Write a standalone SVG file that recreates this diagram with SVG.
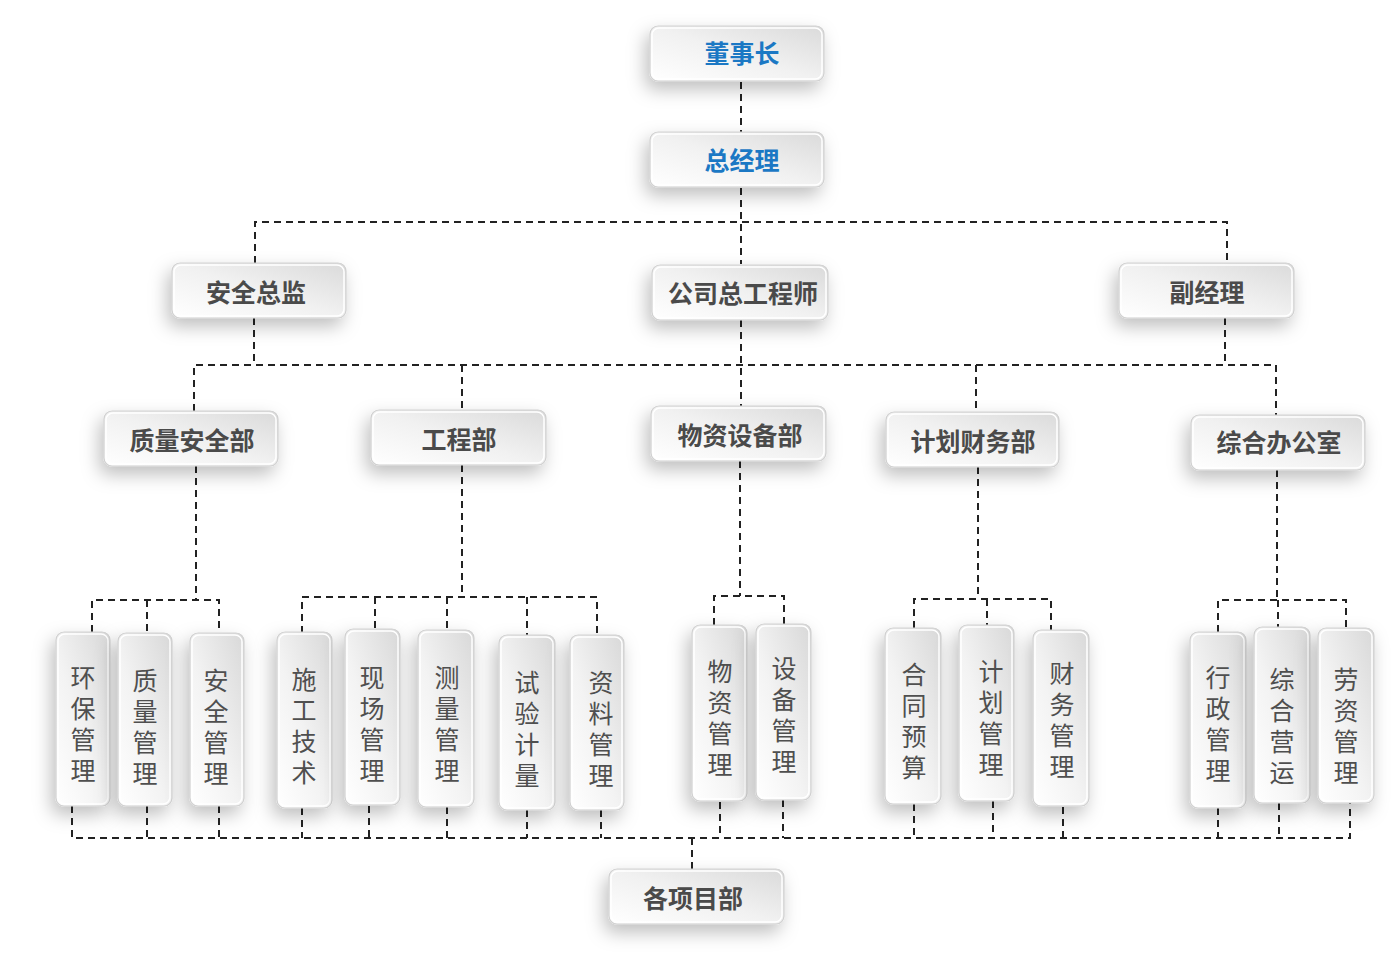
<svg xmlns="http://www.w3.org/2000/svg" width="1400" height="980" viewBox="0 0 1400 980">
<defs>
<linearGradient id="g" x1="0" y1="1" x2="1" y2="0">
<stop offset="0" stop-color="#ffffff"/>
<stop offset="0.5" stop-color="#f1f1f1"/>
<stop offset="1" stop-color="#dadada"/>
</linearGradient>
<linearGradient id="gv" x1="0" y1="1" x2="1" y2="0">
<stop offset="0" stop-color="#ffffff"/>
<stop offset="0.45" stop-color="#f3f3f3"/>
<stop offset="1" stop-color="#d8d8d8"/>
</linearGradient>
<filter id="sh" x="-50%" y="-30%" width="200%" height="180%">
<feDropShadow dx="-4" dy="8" stdDeviation="9" flood-color="#000" flood-opacity="0.25"/>
</filter>
</defs>
<style>
.box{fill:url(#g);stroke:#d0d0d0;stroke-width:1.2;filter:url(#sh)}
.vbox{fill:url(#gv);stroke:#d0d0d0;stroke-width:1.2;filter:url(#sh)}
.in{fill:none;stroke:#ffffff;stroke-width:1.5}
.t{font-family:"Noto Sans CJK SC","Noto Sans",sans-serif;font-size:25px;font-weight:700;fill:#4a4a4a;text-anchor:middle}
.tb{fill:#1b78c4}
.v{font-family:"Noto Sans CJK SC","Noto Sans",sans-serif;font-size:25px;font-weight:400;fill:#4f4f4f;text-anchor:middle;writing-mode:vertical-rl;text-orientation:upright;letter-spacing:6px}
.c{fill:none;stroke:#222;stroke-width:2;stroke-dasharray:7 5}
</style>
<rect width="1400" height="980" fill="#ffffff"/>
<g id="connectors">
<path class="c" d="M741 82V132"/>
<path class="c" d="M741 188V264"/>
<path class="c" d="M255 263V222H1227V263"/>
<path class="c" d="M254 318V365"/>
<path class="c" d="M741 320V406"/>
<path class="c" d="M1225 318V365"/>
<path class="c" d="M194 411V365H1276V415"/>
<path class="c" d="M462 365V410"/>
<path class="c" d="M976 365V412"/>
<path class="c" d="M196 466V600"/>
<path class="c" d="M92 632V600H219V633"/>
<path class="c" d="M147 600V633"/>
<path class="c" d="M462 465V597"/>
<path class="c" d="M302 633V597H597V635"/>
<path class="c" d="M375 597V630"/>
<path class="c" d="M447 597V630"/>
<path class="c" d="M527 597V635"/>
<path class="c" d="M740 461V596"/>
<path class="c" d="M714 625V596H784V625"/>
<path class="c" d="M978 467V599"/>
<path class="c" d="M914 628V599H1051V630"/>
<path class="c" d="M987 599V625"/>
<path class="c" d="M1277 470V600"/>
<path class="c" d="M1218 632V600H1346V628"/>
<path class="c" d="M1278 600V627"/>
<path class="c" d="M72 806V838H1350V803"/>
<path class="c" d="M147 806V838"/>
<path class="c" d="M219 806V838"/>
<path class="c" d="M302 808V838"/>
<path class="c" d="M369 806V838"/>
<path class="c" d="M447 807V838"/>
<path class="c" d="M527 810V838"/>
<path class="c" d="M601 810V838"/>
<path class="c" d="M720 802V838"/>
<path class="c" d="M783 800V838"/>
<path class="c" d="M914 804V838"/>
<path class="c" d="M993 801V838"/>
<path class="c" d="M1063 807V838"/>
<path class="c" d="M1218 808V838"/>
<path class="c" d="M1279 803V838"/>
<path class="c" d="M692 838V869"/>
</g>
<g id="n-dongshizhang"><rect class="box" x="650" y="26" width="174" height="55" rx="8"/><rect class="in" x="652" y="28" width="170" height="51" rx="7"/><text class="t tb" x="742" y="63">董事长</text></g>
<g id="n-zongjingli"><rect class="box" x="650" y="132" width="174" height="55" rx="8"/><rect class="in" x="652" y="134" width="170" height="51" rx="7"/><text class="t tb" x="742" y="170">总经理</text></g>
<g id="n-anquanzongjian"><rect class="box" x="172" y="263" width="174" height="55" rx="8"/><rect class="in" x="174" y="265" width="170" height="51" rx="7"/><text class="t" x="256" y="302">安全总监</text></g>
<g id="n-zonggongchengshi"><rect class="box" x="652" y="265" width="176" height="55" rx="8"/><rect class="in" x="654" y="267" width="172" height="51" rx="7"/><text class="t" x="743" y="303">公司总工程师</text></g>
<g id="n-fujingli"><rect class="box" x="1119" y="263" width="175" height="55" rx="8"/><rect class="in" x="1121" y="265" width="171" height="51" rx="7"/><text class="t" x="1207" y="302">副经理</text></g>
<g id="n-zhiliang"><rect class="box" x="104" y="411" width="174" height="55" rx="8"/><rect class="in" x="106" y="413" width="170" height="51" rx="7"/><text class="t" x="192" y="450">质量安全部</text></g>
<g id="n-gongcheng"><rect class="box" x="371" y="410" width="175" height="55" rx="8"/><rect class="in" x="373" y="412" width="171" height="51" rx="7"/><text class="t" x="459" y="449">工程部</text></g>
<g id="n-wuzi"><rect class="box" x="651" y="406" width="175" height="55" rx="8"/><rect class="in" x="653" y="408" width="171" height="51" rx="7"/><text class="t" x="740" y="445">物资设备部</text></g>
<g id="n-jihua"><rect class="box" x="886" y="412" width="173" height="55" rx="8"/><rect class="in" x="888" y="414" width="169" height="51" rx="7"/><text class="t" x="973" y="451">计划财务部</text></g>
<g id="n-zonghe"><rect class="box" x="1191" y="415" width="174" height="55" rx="8"/><rect class="in" x="1193" y="417" width="170" height="51" rx="7"/><text class="t" x="1279" y="452">综合办公室</text></g>
<g id="n-xiangmu"><rect class="box" x="609" y="869" width="175" height="55" rx="8"/><rect class="in" x="611" y="871" width="171" height="51" rx="7"/><text class="t" x="693" y="908">各项目部</text></g>
<g id="l-huanbao"><rect class="vbox" x="56" y="632" width="54" height="174" rx="8"/><rect class="in" x="58" y="634" width="50" height="170" rx="7"/><text class="v" x="83" y="727">环保管理</text></g>
<g id="l-zhiliang"><rect class="vbox" x="118" y="633" width="54" height="173" rx="8"/><rect class="in" x="120" y="635" width="50" height="169" rx="7"/><text class="v" x="145" y="730">质量管理</text></g>
<g id="l-anquan"><rect class="vbox" x="190" y="633" width="54" height="173" rx="8"/><rect class="in" x="192" y="635" width="50" height="169" rx="7"/><text class="v" x="216" y="730">安全管理</text></g>
<g id="l-shigong"><rect class="vbox" x="277" y="632" width="55" height="176" rx="8"/><rect class="in" x="279" y="634" width="51" height="172" rx="7"/><text class="v" x="304" y="729">施工技术</text></g>
<g id="l-xianchang"><rect class="vbox" x="345" y="629" width="55" height="176" rx="8"/><rect class="in" x="347" y="631" width="51" height="172" rx="7"/><text class="v" x="372" y="727">现场管理</text></g>
<g id="l-celiang"><rect class="vbox" x="418" y="630" width="56" height="177" rx="8"/><rect class="in" x="420" y="632" width="52" height="173" rx="7"/><text class="v" x="447" y="727">测量管理</text></g>
<g id="l-shiyan"><rect class="vbox" x="499" y="635" width="56" height="175" rx="8"/><rect class="in" x="501" y="637" width="52" height="171" rx="7"/><text class="v" x="527" y="732">试验计量</text></g>
<g id="l-ziliao"><rect class="vbox" x="570" y="635" width="54" height="175" rx="8"/><rect class="in" x="572" y="637" width="50" height="171" rx="7"/><text class="v" x="601" y="732">资料管理</text></g>
<g id="l-wuzi"><rect class="vbox" x="692" y="625" width="55" height="176" rx="8"/><rect class="in" x="694" y="627" width="51" height="172" rx="7"/><text class="v" x="720" y="721">物资管理</text></g>
<g id="l-shebei"><rect class="vbox" x="756" y="624" width="55" height="176" rx="8"/><rect class="in" x="758" y="626" width="51" height="172" rx="7"/><text class="v" x="784" y="718">设备管理</text></g>
<g id="l-hetong"><rect class="vbox" x="885" y="628" width="56" height="176" rx="8"/><rect class="in" x="887" y="630" width="52" height="172" rx="7"/><text class="v" x="914" y="724">合同预算</text></g>
<g id="l-jihua"><rect class="vbox" x="959" y="625" width="55" height="176" rx="8"/><rect class="in" x="961" y="627" width="51" height="172" rx="7"/><text class="v" x="991" y="721">计划管理</text></g>
<g id="l-caiwu"><rect class="vbox" x="1033" y="630" width="56" height="176" rx="8"/><rect class="in" x="1035" y="632" width="52" height="172" rx="7"/><text class="v" x="1062" y="723">财务管理</text></g>
<g id="l-xingzheng"><rect class="vbox" x="1190" y="632" width="56" height="176" rx="8"/><rect class="in" x="1192" y="634" width="52" height="172" rx="7"/><text class="v" x="1218" y="727">行政管理</text></g>
<g id="l-yingyun"><rect class="vbox" x="1254" y="627" width="56" height="176" rx="8"/><rect class="in" x="1256" y="629" width="52" height="172" rx="7"/><text class="v" x="1282" y="729">综合营运</text></g>
<g id="l-laozi"><rect class="vbox" x="1318" y="628" width="56" height="175" rx="8"/><rect class="in" x="1320" y="630" width="52" height="171" rx="7"/><text class="v" x="1346" y="729">劳资管理</text></g>
</svg>
